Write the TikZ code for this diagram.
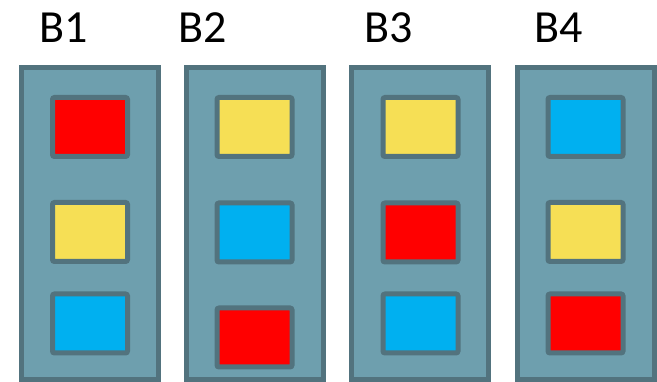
\documentclass[tikz,border=0pt]{standalone}
\usepackage{fontspec}
\setmainfont{Carlito}
\definecolor{binfill}{HTML}{6E9FAE}
\definecolor{binline}{HTML}{52737E}
\definecolor{cred}{HTML}{FF0000}
\definecolor{cyel}{HTML}{F6DF55}
\definecolor{cblue}{HTML}{00B0F0}
\begin{document}
\begin{tikzpicture}[x=1pt,y=-1pt,
  bin/.style={draw=binline,fill=binfill,line width=5pt,minimum width=136.5pt,minimum height=312.5pt,inner sep=0pt,anchor=north west},
  item/.style={draw=binline,line width=5pt,rounded corners=2pt,minimum width=75pt,minimum height=59pt,inner sep=0pt},
  lab/.style={font=\fontsize{46}{50}\selectfont,anchor=base,inner sep=0pt}]
\useasboundingbox (0,0) rectangle (657,382);
% bins
\node[bin] (b1) at (19,65) {};
\node[bin] (b2) at (184,65) {};
\node[bin] (b3) at (349,65) {};
\node[bin] (b4) at (515,65) {};
% labels
\node[lab] (l1) at (63.5,43) {B1};
\node[lab] (l2) at (203,43) {B2};
\node[lab] (l3) at (388.5,43) {B3};
\node[lab] (l4) at (558.5,43) {B4};
% items B1
\node[item,fill=cred]  (r1) at (90,127) {};
\node[item,fill=cyel]  (y1) at (90,232) {};
\node[item,fill=cblue] (u1) at (90,323.5) {};
% items B2
\node[item,fill=cyel]  (y2) at (254.5,127) {};
\node[item,fill=cblue] (u2) at (254.5,232.5) {};
\node[item,fill=cred]  (r2) at (254.5,337.5) {};
% items B3
\node[item,fill=cyel]  (y3) at (420.5,127) {};
\node[item,fill=cred]  (r3) at (420.5,232.5) {};
\node[item,fill=cblue] (u3) at (420.5,323.5) {};
% items B4
\node[item,fill=cblue] (u4) at (585.5,127) {};
\node[item,fill=cyel]  (y4) at (585.5,232) {};
\node[item,fill=cred]  (r4) at (585.5,323.5) {};
\end{tikzpicture}
\end{document}
